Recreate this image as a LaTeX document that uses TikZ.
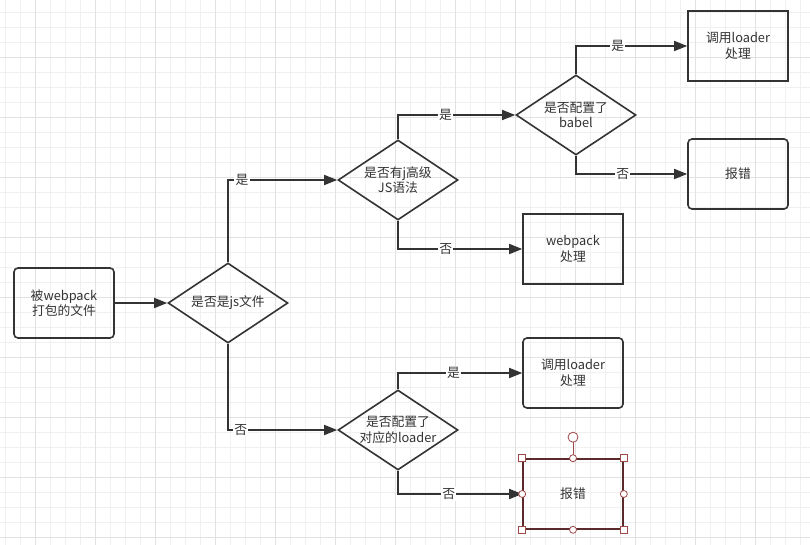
\documentclass[tikz,border=0pt]{standalone}
\usepackage{fontspec}
\setmainfont{Noto Sans CJK SC}
\usetikzlibrary{arrows.meta,positioning,shapes.geometric,calc}
\definecolor{linie}{HTML}{333333}
\definecolor{gitterfein}{HTML}{F0F0F0}
\definecolor{gitter}{HTML}{E2E2E2}
\definecolor{auswahl}{HTML}{A04848}
\definecolor{auswahlrand}{HTML}{5C2A2A}

\begin{document}
\begin{tikzpicture}[x=1pt, y=1pt,
    every node/.style={font=\fontsize{12.8}{15.5}\selectfont, text=linie},
    flow/.style={draw=linie, line width=1.6pt, -{Triangle[length=13pt,width=10pt]}},
    box/.style={draw=linie, line width=1.6pt, minimum width=100pt, minimum height=70pt, align=center, inner sep=0pt},
    rbox/.style={box, rounded corners=4pt},
    dia/.style={diamond, draw=linie, line width=1.6pt, minimum width=120pt, minimum height=80pt, aspect=1.5, align=center, inner sep=0pt},
    lbl/.style={fill=white, inner sep=1.2pt},
    griff/.style={draw=auswahl, fill=white, line width=0.8pt, inner sep=0pt, minimum size=7pt},
    griffrund/.style={griff, circle}
  ]
    % Hintergrund mit Raster
    \useasboundingbox (0,0) rectangle (810,-545);
    \fill[white] (0,0) rectangle (810,-545);
    \foreach \gx in {5,20,...,800} {\draw[gitterfein, line width=0.8pt] (\gx,0) -- (\gx,-545);}
    \foreach \gy in {12,27,...,540} {\draw[gitterfein, line width=0.8pt] (0,-\gy) -- (810,-\gy);}
    \foreach \gx in {35,95,...,800} {\draw[gitter, line width=0.8pt] (\gx,0) -- (\gx,-545);}
    \foreach \gy in {57,117,...,540} {\draw[gitter, line width=0.8pt] (0,-\gy) -- (810,-\gy);}

    % Knoten
    \node[rbox] (datei) at (64,-303) {被webpack\\打包的文件};
    \node[dia] (istjs) at (228,-303) {是否是js文件};
    \node[dia] (hoch) at (398,-180) {是否有j高级\\JS语法};
    \node[dia] (babel) at (576,-115) {是否配置了\\babel};
    \node[box] (lader1) at (738,-46) {调用loader\\处理};
    \node[rbox] (fehler1) at (738,-174) {报错};
    \node[box] (wp) at (573,-249) {webpack\\处理};
    \node[dia] (konf) at (398,-430) {是否配置了\\对应的loader};
    \node[rbox] (lader2) at (573,-373) {调用loader\\处理};
    \node[box, draw=auswahlrand] (fehler2) at (573,-494) {报错};

    % Verbindungen
    \draw[flow] (datei) -- (istjs);
    \draw[flow] (istjs.north) |- (hoch.west) node[lbl, pos=0.564] (j1) {是};
    \draw[flow] (hoch.north) |- (babel.west) node[lbl, pos=0.703] (j2) {是};
    \draw[flow] (babel.north) |- (lader1.west) node[lbl, pos=0.688] (j3) {是};
    \draw[flow] (babel.south) |- (fehler1.west) node[lbl, pos=0.71] (n3) {否};
    \draw[flow] (hoch.south) |- (wp.west) node[lbl, pos=0.692] (n2) {否};
    \draw[flow] (istjs.south) |- (konf.west) node[lbl, pos=0.559] (n1) {否};
    \draw[flow] (konf.north) |- (lader2.west) node[lbl, pos=0.724] (j4) {是};
    \draw[flow] (konf.south) |- (fehler2.west) node[lbl, pos=0.704] (n4) {否};

    % Auswahlgriffe
    \coordinate (dreh) at ($(fehler2.north)+(0,21)$);
    \draw[auswahl, line width=0.8pt] (fehler2.north) -- (dreh);
    \node[griffrund, minimum size=10pt] (g0) at (dreh) {};
    \node[griff] (g1) at (fehler2.north west) {};
    \node[griff] (g2) at (fehler2.north east) {};
    \node[griff] (g3) at (fehler2.south west) {};
    \node[griff] (g4) at (fehler2.south east) {};
    \node[griffrund] (g5) at (fehler2.north) {};
    \node[griffrund] (g6) at (fehler2.south) {};
    \node[griffrund] (g7) at (fehler2.west) {};
    \node[griffrund] (g8) at (fehler2.east) {};
  \end{tikzpicture}
\end{document}
